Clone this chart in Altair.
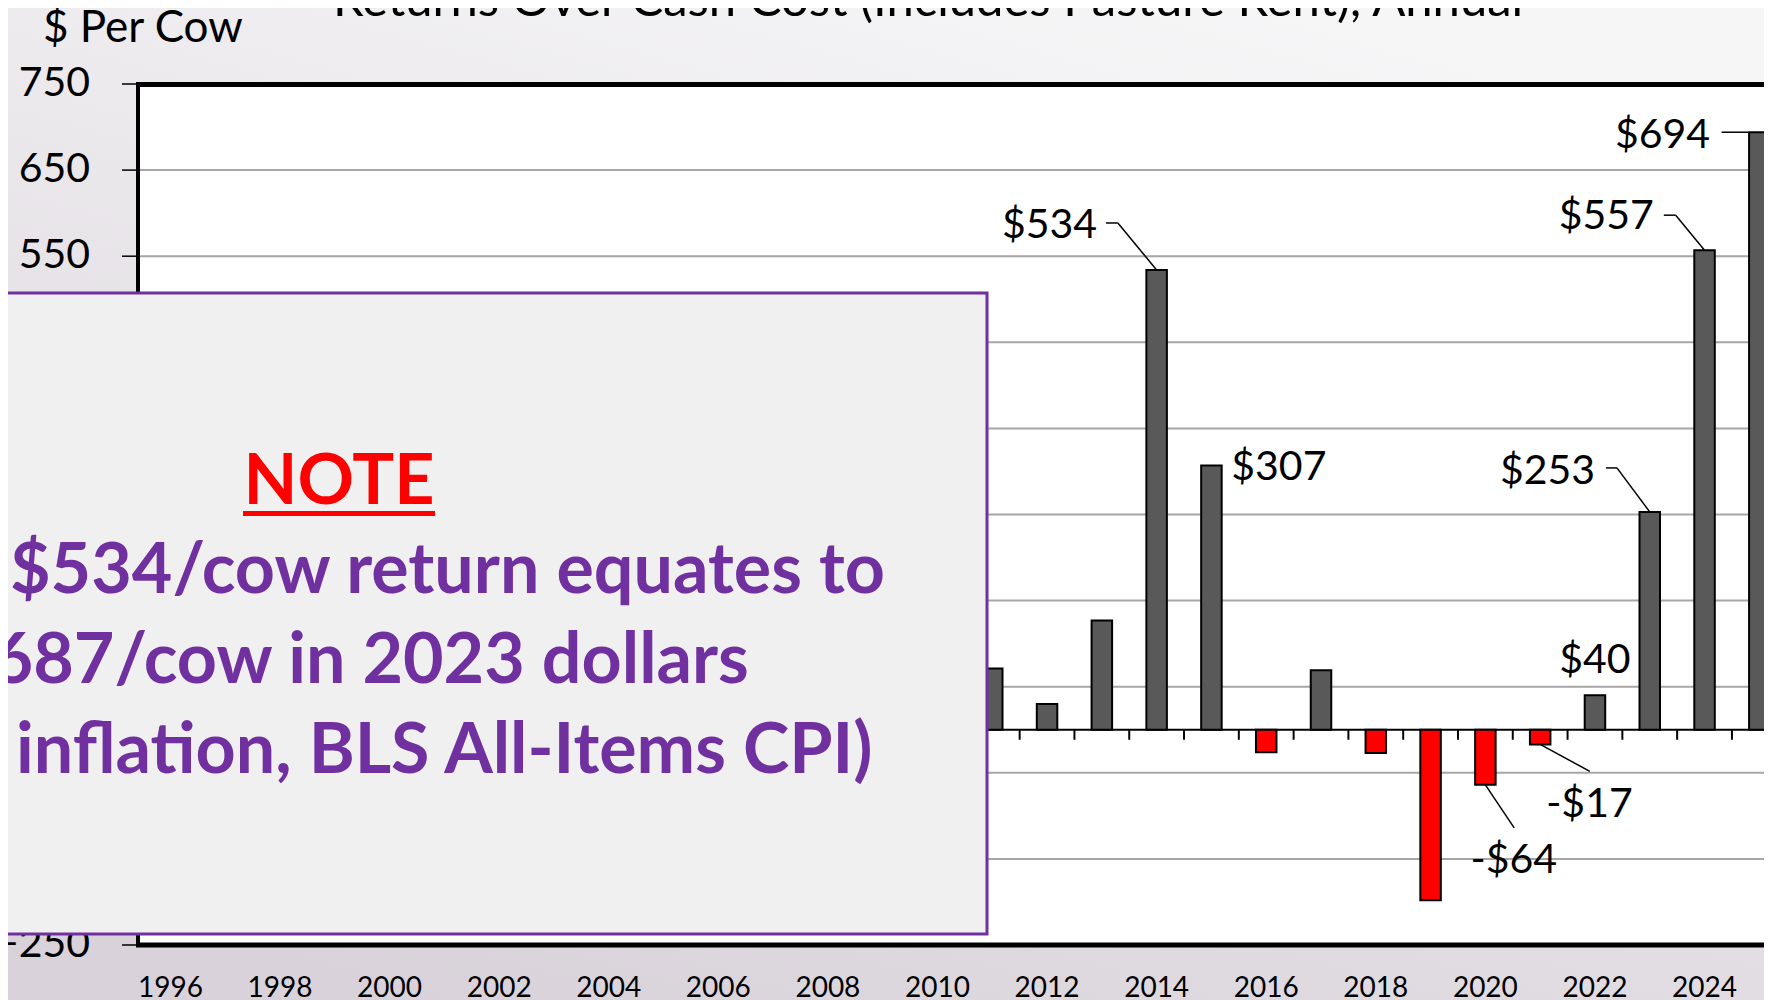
import altair as alt
import pandas as pd

# ---------------- data ----------------
years = [2011, 2012, 2013, 2014, 2015, 2016, 2017, 2018, 2019, 2020, 2021, 2022, 2023, 2024, 2025]
returns = [71, 30, 127, 534, 307, -26, 69, -27, -198, -64, -17, 40, 253, 557, 694]
year_tick_labels = list(range(1996, 2025, 2))
value_tick_labels = list(range(-250, 751, 100))
labelled_years = [2014, 2015, 2020, 2021, 2022, 2023, 2024, 2025]

title_text = "Returns Over Cash Cost (Includes Pasture Rent), Annual"
y_title_text = "$ Per Cow"
note_head = "NOTE"
note_line1 = "$534/cow return equates to"
note_line2 = "$687/cow in 2023 dollars"
note_line3 = "inflation, BLS All-Items CPI)"

# ---------------- layout ----------------
FONT = "Lato"
PXY = 55.13          # pixels per year
W, H = 1626, 861
PAD_L, PAD_T, PAD_B = 130, 76, 55
X_DOMAIN = [1995.5, 1995.5 + W / PXY]
Y_DOMAIN = [-250, 750]
PXV = H / (Y_DOMAIN[1] - Y_DOMAIN[0])
TICK_PX = 10

xscale = alt.Scale(domain=X_DOMAIN, nice=False, zero=False)
yscale = alt.Scale(domain=Y_DOMAIN, nice=False, zero=False)

# label placement: pixel offsets from the bar end
label_layout = {
    2014: dict(dx=-60, dy=-32, align="right", leader=[(0, 0), (-39, -47), (-51, -47)]),
    2015: dict(dx=20, dy=15, align="left", leader=[]),
    2020: dict(dx=-15, dy=88, align="left", leader=[(0, 0), (29, 43)]),
    2021: dict(dx=6, dy=73, align="left", leader=[(0, 0), (50, 27)]),
    2022: dict(dx=0, dy=-22, align="center", leader=[]),
    2023: dict(dx=-55, dy=-28, align="right", leader=[(0, 0), (-33, -44), (-44, -44)]),
    2024: dict(dx=-51, dy=-21, align="right", leader=[(0, 0), (-29, -35), (-41, -35)]),
    2025: dict(dx=-49.5, dy=16, align="right", leader=[(-11, 0), (-38, 0)]),
}

df = pd.DataFrame({"year": years, "value": returns})
val = dict(zip(years, returns))

lab_rows, seg_rows = [], []
for yr in labelled_years:
    v = val[yr]
    L = label_layout[yr]
    txt = f"${v}" if v >= 0 else f"-${-v}"
    lab_rows.append(dict(lx=yr + L["dx"] / PXY, ly=v - L["dy"] / PXV, text=txt, align=L["align"]))
    pts = L["leader"]
    for (ax, ay), (bx, by) in zip(pts[:-1], pts[1:]):
        seg_rows.append(dict(x=yr + ax / PXY, y=v - ay / PXV, x2=yr + bx / PXY, y2=v - by / PXV))
lab_df = pd.DataFrame(lab_rows)
seg_df = pd.DataFrame(seg_rows)

one = pd.DataFrame({"k": [0]})
zero_df = pd.DataFrame({"z": [0]})
vt_df = pd.DataFrame({"v": value_tick_labels})
grid_df = pd.DataFrame({"v": [v for v in value_tick_labels if Y_DOMAIN[0] < v < Y_DOMAIN[1]]})
yr_df = pd.DataFrame({"yr": year_tick_labels})
bound_df = pd.DataFrame({"b": [y + 0.5 for y in range(1996, 2025)]})


def X(f):
    return alt.X(f, scale=xscale, axis=None)


def Y(f):
    return alt.Y(f, scale=yscale, axis=None)


bg = alt.Chart(one).mark_rect(
    color=alt.LinearGradient(
        gradient="linear",
        stops=[alt.GradientStop(color="#f6f6f7", offset=0), alt.GradientStop(color="#d9d2da", offset=1)],
        x1=0.75, y1=0, x2=0.25, y2=1,
    )
).encode(x=alt.value(-PAD_L), x2=alt.value(W + 10), y=alt.value(-PAD_T), y2=alt.value(H + PAD_B))

plot_bg = alt.Chart(one).mark_rect(color="white").encode(
    x=alt.value(0), x2=alt.value(W + 10), y=alt.value(0), y2=alt.value(H))

grid = alt.Chart(grid_df).mark_rule(color="#a6a6a6", strokeWidth=2).encode(
    y=Y("v:Q"), x=alt.value(0), x2=alt.value(W + 10))

zero_line = alt.Chart(zero_df).mark_rule(color="black", strokeWidth=2).encode(
    y=Y("z:Q"), x=alt.value(0), x2=alt.value(W + 10))

zero_ticks = alt.Chart(bound_df).transform_calculate(
    z="0", z2=str(-TICK_PX / PXV)
).mark_rule(color="black", strokeWidth=2).encode(
    x=X("b:Q"), y=Y("z:Q"), y2="z2:Q")

bars = alt.Chart(df).transform_calculate(base="0").mark_bar(size=20.5, stroke="black", strokeWidth=2).encode(
    x=X("year:Q"), y=Y("value:Q"), y2="base:Q",
    color=alt.condition("datum.value < 0", alt.value("#ff0000"), alt.value("#595959")),
)

frame_top = alt.Chart(one).mark_rule(color="black", strokeWidth=5).encode(
    x=alt.value(-2), x2=alt.value(W + 10), y=alt.value(0.5))
frame_bottom = alt.Chart(one).mark_rule(color="black", strokeWidth=5).encode(
    x=alt.value(-2), x2=alt.value(W + 10), y=alt.value(H))
frame_left = alt.Chart(one).mark_rule(color="black", strokeWidth=4).encode(
    x=alt.value(0), y=alt.value(-2), y2=alt.value(H + 2))

y_ticks = alt.Chart(vt_df).mark_rule(color="black", strokeWidth=1.5).encode(
    y=Y("v:Q"), x=alt.value(-16), x2=alt.value(0))
y_labels = alt.Chart(vt_df).mark_text(font=FONT, fontSize=41, align="right", baseline="middle", color="black").encode(
    y=Y("v:Q"), x=alt.value(-48), text=alt.Text("v:Q", format="d"))

x_labels = alt.Chart(yr_df).mark_text(font=FONT, fontSize=28, align="center", baseline="alphabetic", color="black").encode(
    x=X("yr:Q"), y=alt.value(913), text=alt.Text("yr:Q", format="d"))

note_box = alt.Chart(one).mark_rect(fill="#f0f0f0", stroke="#7030a0", strokeWidth=3).encode(
    x=alt.value(-160), x2=alt.value(849), y=alt.value(209), y2=alt.value(850))
note_h = alt.Chart(one).mark_text(font=FONT, fontSize=70, fontWeight="bold", color="#ff0000",
                                  align="center", baseline="alphabetic").encode(
    x=alt.value(201), y=alt.value(420), text=alt.value(note_head))
note_ul = alt.Chart(one).mark_rule(color="#ff0000", strokeWidth=5).encode(
    x=alt.value(105), x2=alt.value(297), y=alt.value(429.5))
NOTE_STYLE = dict(font=FONT, fontSize=70, fontWeight="bold", color="#7030a0", baseline="alphabetic", align="left")
note_l1 = alt.Chart(one).mark_text(**NOTE_STYLE).encode(
    x=alt.value(-128), y=alt.value(509), text=alt.value(note_line1))
note_l2 = alt.Chart(one).mark_text(**NOTE_STYLE).encode(
    x=alt.value(-186), y=alt.value(599), text=alt.value(note_line2))
note_l3 = alt.Chart(one).mark_text(**NOTE_STYLE).encode(
    x=alt.value(-122), y=alt.value(689), text=alt.value(note_line3))

leaders = alt.Chart(seg_df).mark_rule(color="black", strokeWidth=1.5).encode(
    x=X("x:Q"), y=Y("y:Q"), x2="x2:Q", y2="y2:Q")

label_layers = []
for al in ["left", "right", "center"]:
    sub = lab_df[lab_df["align"] == al]
    if len(sub):
        label_layers.append(
            alt.Chart(sub).mark_text(font=FONT, fontSize=41, align=al, baseline="alphabetic", color="black").encode(
                x=X("lx:Q"), y=Y("ly:Q"), text="text:N"))

title = alt.Chart(one).mark_text(font=FONT, fontSize=49, align="center", baseline="alphabetic", color="black").encode(
    x=alt.value(790), y=alt.value(-68), text=alt.value(title_text))
y_title = alt.Chart(one).mark_text(font=FONT, fontSize=44, align="left", baseline="alphabetic", color="black").encode(
    x=alt.value(-95), y=alt.value(-42), text=alt.value(y_title_text))

chart = alt.layer(
    bg, plot_bg, grid, zero_line, zero_ticks, bars,
    frame_top, frame_bottom, frame_left,
    y_ticks, y_labels, x_labels,
    note_box, note_h, note_ul, note_l1, note_l2, note_l3,
    leaders, *label_layers, title, y_title,
).properties(
    width=W, height=H,
    autosize=alt.AutoSizeParams(type="none"),
    padding={"left": PAD_L, "top": PAD_T, "right": 0, "bottom": PAD_B},
    background="#ebe8ec",
).configure_view(stroke=None)

chart.save("out.html", embed_options={"renderer": "svg", "actions": False})
